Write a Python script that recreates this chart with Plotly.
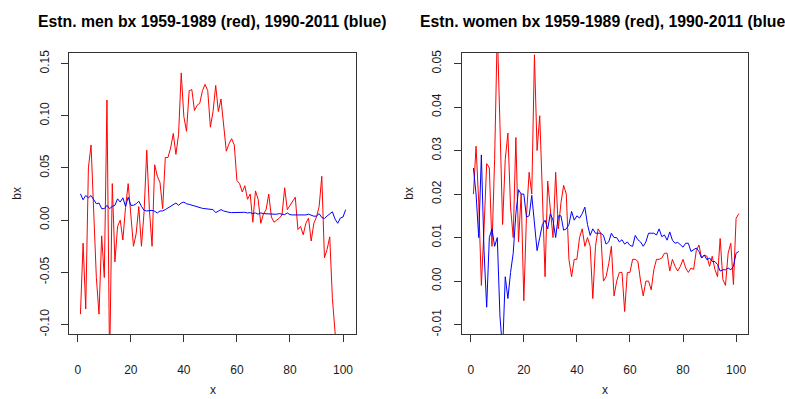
import plotly.graph_objects as go

# ---------------- data ----------------
x_vals = list(range(1, 102))

men_red = [
    -0.090, -0.022, -0.085, 0.050, 0.072, 0.005, -0.055, -0.090, -0.015, -0.055,
    0.115, -0.140, 0.035, -0.040, -0.006, 0.000, -0.019, 0.012, 0.035, 0.005,
    -0.025, -0.013, 0.013, -0.025, 0.008, 0.067, 0.010, -0.025, 0.053, 0.042,
    0.036, 0.011, 0.060, 0.060, 0.069, 0.083, 0.063, 0.082, 0.141, 0.099,
    0.085, 0.124, 0.125, 0.105, 0.110, 0.112, 0.124, 0.130, 0.124, 0.089,
    0.104, 0.129, 0.104, 0.116, 0.094, 0.066, 0.073, 0.078, 0.072, 0.038,
    0.035, 0.027, 0.033, 0.020, 0.025, -0.002, 0.028, 0.020, -0.003, 0.006,
    0.010, 0.025, 0.003, -0.002, 0.000, 0.002, 0.005, 0.031, 0.010, 0.014,
    0.019, 0.022, -0.009, -0.006, -0.014, -0.003, 0.002, -0.020, -0.003, 0.003,
    0.013, 0.042, -0.036, -0.028, -0.016, -0.075, -0.107, -0.140, -0.170, -0.200,
    -0.220,
]

men_blue = [
    0.0252, 0.0195, 0.0236, 0.0214, 0.0236, 0.0189, 0.0157, 0.0164, 0.0110, 0.0110,
    0.0142, 0.0110, 0.0132, 0.0142, 0.0204, 0.0173, 0.0214, 0.0132, 0.0220, 0.0142,
    0.0142, 0.0157, 0.0182, 0.0132, 0.0094, 0.0088, 0.0088, 0.0094, 0.0085, 0.0069,
    0.0088, 0.0088, 0.0101, 0.0116, 0.0132, 0.0151, 0.0164, 0.0142, 0.0164, 0.0173,
    0.0157, 0.0151, 0.0142, 0.0135, 0.0126, 0.0120, 0.0113, 0.0110, 0.0107, 0.0110,
    0.0101, 0.0072, 0.0088, 0.0101, 0.0088, 0.0079, 0.0075, 0.0072, 0.0072, 0.0072,
    0.0075, 0.0079, 0.0075, 0.0069, 0.0072, 0.0063, 0.0069, 0.0057, 0.0069, 0.0063,
    0.0060, 0.0063, 0.0060, 0.0057, 0.0057, 0.0063, 0.0057, 0.0053, 0.0069, 0.0053,
    0.0050, 0.0050, 0.0050, 0.0053, 0.0047, 0.0050, 0.0057, 0.0044, 0.0038, 0.0038,
    0.0063, 0.0025, 0.0016, 0.0040, 0.0060, 0.0080, 0.0010, -0.0030, 0.0020, 0.0030,
    0.0100,
]

women_red = [
    0.0200, 0.0310, 0.0180, -0.0010, 0.0120, 0.0270, 0.0260, 0.0080, 0.0280, 0.0580,
    0.0360, 0.0130, 0.0280, 0.0340, 0.0170, 0.0100, 0.0330, 0.0090, 0.0200, -0.0045,
    0.0150, 0.0250, 0.0200, 0.0520, 0.0300, 0.0380, 0.0200, 0.0010, 0.0230, 0.0160,
    0.0100, 0.0250, 0.0120, 0.0180, 0.0220, 0.0200, 0.0050, 0.0010, 0.0050, 0.0050,
    0.0100, 0.0120, 0.0080, 0.0100, 0.0080, -0.0040, 0.0080, 0.0120, 0.0110, 0.0000,
    0.0010, 0.0040, 0.0080, -0.0034, 0.0000, 0.0020, 0.0020, -0.0070, 0.0020, 0.0020,
    0.0050, 0.0050, 0.0045, 0.0000, -0.0034, 0.0000, 0.0000, -0.0020, 0.0026, 0.0050,
    0.0050, 0.0053, 0.0064, 0.0064, 0.0023, 0.0050, 0.0034, 0.0023, 0.0034, 0.0050,
    0.0030, 0.0020, 0.0030, 0.0027, 0.0070, 0.0083, 0.0053, 0.0060, 0.0057, 0.0034,
    0.0057, 0.0027, 0.0010, 0.0098, 0.0004, -0.0010, 0.0064, 0.0087, -0.0008, 0.0144,
    0.0155,
]

women_blue = [
    0.0260, 0.0200, 0.0100, 0.0290, 0.0070, -0.0060, 0.0100, 0.0120, 0.0080, 0.0100,
    -0.0080, -0.0160, 0.0010, -0.0040, 0.0020, 0.0064, 0.0155, 0.0210, 0.0200, 0.0200,
    0.0147, 0.0150, 0.0197, 0.0140, 0.0070, 0.0100, 0.0130, 0.0140, 0.0120, 0.0155,
    0.0140, 0.0100, 0.0150, 0.0150, 0.0117, 0.0120, 0.0130, 0.0160, 0.0140, 0.0150,
    0.0145, 0.0155, 0.0170, 0.0130, 0.0105, 0.0120, 0.0110, 0.0110, 0.0110, 0.0105,
    0.0085, 0.0090, 0.0110, 0.0100, 0.0100, 0.0090, 0.0095, 0.0085, 0.0090, 0.0082,
    0.0080, 0.0105, 0.0095, 0.0090, 0.0080, 0.0090, 0.0110, 0.0110, 0.0110, 0.0106,
    0.0120, 0.0102, 0.0106, 0.0094, 0.0113, 0.0094, 0.0087, 0.0089, 0.0083, 0.0078,
    0.0087, 0.0087, 0.0068, 0.0072, 0.0076, 0.0068, 0.0053, 0.0060, 0.0049, 0.0053,
    0.0045, 0.0045, 0.0038, 0.0023, 0.0026, 0.0026, 0.0030, 0.0026, 0.0034, 0.0064,
    0.0068,
]

x_ticks = [0, 20, 40, 60, 80, 100]
x_ticktext = ["0", "20", "40", "60", "80", "100"]
men_yticks = [-0.10, -0.05, 0.00, 0.05, 0.10, 0.15]
men_yticktext = ["-0.10", "-0.05", "0.00", "0.05", "0.10", "0.15"]
women_yticks = [-0.01, 0.00, 0.01, 0.02, 0.03, 0.04, 0.05]
women_yticktext = ["-0.01", "0.00", "0.01", "0.02", "0.03", "0.04", "0.05"]

titles = ["Estn. men bx 1959-1989 (red), 1990-2011 (blue)",
          "Estn. women bx 1959-1989 (red), 1990-2011 (blue)"]

# ---------------- layout geometry (pixels) ----------------
W, H = 785, 399
L1, R1 = 69.3, 356.0
L2, R2 = 462.0, 748.3
TOP, BOT = 50.7, 335.7

def px(xp):
    return xp / W

def py(yp):
    return 1 - yp / H

FONT = "Liberation Sans, Arial, sans-serif"
TXT = "#1a1a1a"

fig = go.Figure()
fig.add_trace(go.Scatter(x=x_vals, y=men_red, mode="lines",
                         line=dict(color="#FF0000", width=1), xaxis="x", yaxis="y"))
fig.add_trace(go.Scatter(x=x_vals, y=men_blue, mode="lines",
                         line=dict(color="#0000FF", width=1), xaxis="x", yaxis="y"))
fig.add_trace(go.Scatter(x=x_vals, y=women_red, mode="lines",
                         line=dict(color="#FF0000", width=1), xaxis="x2", yaxis="y2"))
fig.add_trace(go.Scatter(x=x_vals, y=women_blue, mode="lines",
                         line=dict(color="#0000FF", width=1), xaxis="x2", yaxis="y2"))

axis_common = dict(showgrid=False, zeroline=False, showline=True, mirror=True,
                   linecolor="#333333", linewidth=1, ticks="outside", ticklen=7,
                   tickcolor="#333333", tickwidth=1,
                   tickfont=dict(family=FONT, size=12, color=TXT))

fig.update_layout(
    width=W, height=H,
    margin=dict(l=0, r=0, t=0, b=0),
    paper_bgcolor="white", plot_bgcolor="white",
    showlegend=False,
    xaxis=dict(domain=[px(L1), px(R1)], range=[-3.2, 104.9], anchor="y",
               tickmode="array", tickvals=x_ticks, ticktext=x_ticktext,
               ticklabelstandoff=17, **axis_common),
    yaxis=dict(domain=[py(BOT), py(TOP)], range=[-0.1095, 0.16], anchor="x",
               tickmode="array", tickvals=men_yticks, ticktext=men_yticktext,
               tickangle=-90, ticklabelstandoff=8, **axis_common),
    xaxis2=dict(domain=[px(L2), px(R2)], range=[-3.3, 104.6], anchor="y2",
                tickmode="array", tickvals=x_ticks, ticktext=x_ticktext,
                ticklabelstandoff=17, **axis_common),
    yaxis2=dict(domain=[py(BOT), py(TOP)], range=[-0.01227, 0.0524], anchor="x2",
                tickmode="array", tickvals=women_yticks, ticktext=women_yticktext,
                tickangle=-90, ticklabelstandoff=8, **axis_common),
)

annots = [
    dict(text="<b>" + titles[0] + "</b>", x=px((L1 + R1) / 2), y=py(19),
         font=dict(family=FONT, size=15.8, color="black")),
    dict(text="<b>" + titles[1] + "</b>", x=px((L2 + R2) / 2), y=py(19),
         font=dict(family=FONT, size=15.8, color="black")),
    dict(text="x", x=px((L1 + R1) / 2), y=py(392), font=dict(family=FONT, size=12, color=TXT)),
    dict(text="x", x=px((L2 + R2) / 2), y=py(392), font=dict(family=FONT, size=12, color=TXT)),
    dict(text="bx", x=px(17), y=py((TOP + BOT) / 2), textangle=-90,
         font=dict(family=FONT, size=12, color=TXT)),
    dict(text="bx", x=px(409), y=py((TOP + BOT) / 2), textangle=-90,
         font=dict(family=FONT, size=12, color=TXT)),
]
for a in annots:
    a.update(xref="paper", yref="paper", showarrow=False, xanchor="center", yanchor="middle")
    fig.add_annotation(**a)

fig.write_html("out.html")
